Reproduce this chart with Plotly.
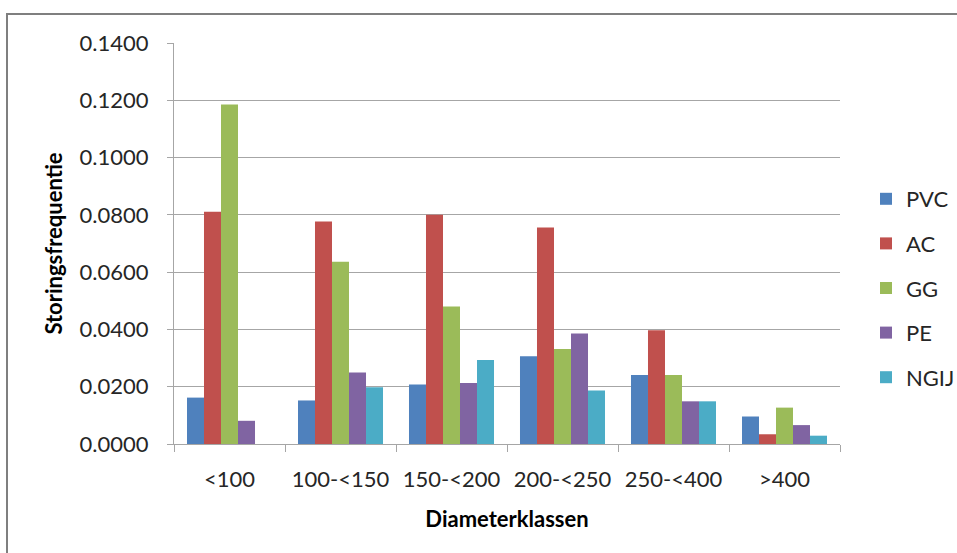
import plotly.graph_objects as go

# Diameter classes (mm) and failure frequency per pipe material
categories = ["<100", "100-<150", "150-<200", "200-<250", "250-<400", ">400"]
pvc = [0.0162, 0.0152, 0.0208, 0.0306, 0.0241, 0.0096]
ac = [0.0811, 0.0777, 0.0800, 0.0756, 0.0397, 0.0034]
gg = [0.1185, 0.0636, 0.0480, 0.0332, 0.0241, 0.0127]
pe = [0.0081, 0.0250, 0.0213, 0.0386, 0.0149, 0.0066]
ngij = [None, 0.0198, 0.0293, 0.0187, 0.0149, 0.0029]
y_ticks = [0.0, 0.02, 0.04, 0.06, 0.08, 0.10, 0.12, 0.14]

series = [
    ("PVC", pvc, "#4F81BD"),
    ("AC", ac, "#C0504D"),
    ("GG", gg, "#9BBB59"),
    ("PE", pe, "#8064A2"),
    ("NGIJ", ngij, "#4BACC6"),
]

FONT = "Lato, Open Sans, sans-serif"
FS = 22

fig = go.Figure()
for name, vals, color in series:
    fig.add_trace(go.Bar(
        x=categories, y=vals, name=name, legendgroup=name,
        marker=dict(color=color, line=dict(width=0)),
    ))

W, H = 957, 553
L, R, T, B = 174, 117, 43, 109
pw, ph = W - L - R, H - T - B

fig.update_layout(
    width=W, height=H,
    margin=dict(l=L, r=R, t=T, b=B, autoexpand=False),
    paper_bgcolor="white", plot_bgcolor="white",
    barmode="group", bargap=0.234, bargroupgap=0,
    font=dict(family=FONT, size=FS, color="#262626"),
    legend=dict(
        x=(866 - L) / pw, y=(H - B - 178) / ph, xanchor="left", yanchor="top",
        font=dict(size=FS), tracegroupgap=13, itemwidth=30,
        bgcolor="rgba(0,0,0,0)",
    ),
    xaxis=dict(
        showgrid=False, showline=True, linecolor="#A6A6A6", linewidth=1,
        ticks="outside", tickson="boundaries", ticklen=7, tickcolor="#A6A6A6",
        ticklabelstandoff=16,
        title=dict(text="<b>Diameterklassen</b>", font=dict(size=FS, color="#000000"), standoff=20),
    ),
    yaxis=dict(
        range=[0, 0.14], tickvals=y_ticks,
        tickformat=".4f",
        showgrid=True, gridcolor="#A6A6A6", gridwidth=1,
        showline=True, linecolor="#A6A6A6", linewidth=1,
        ticks="outside", ticklen=6, tickcolor="#A6A6A6",
        ticklabelstandoff=14, zeroline=False,
        title=dict(text="<b>Storingsfrequentie</b>", font=dict(size=FS, color="#000000"), standoff=10),
    ),
)

# Outer chart-area frame (top and left edges visible)
fig.add_shape(
    type="rect", xref="paper", yref="paper",
    x0=(7 - L) / pw, x1=(W + 20 - L) / pw,
    y0=(H - B - (H + 20)) / ph, y1=(H - B - 14) / ph,
    line=dict(color="#7F7F7F", width=2), fillcolor="rgba(0,0,0,0)",
    layer="below",
)

fig.write_html("out.html")
